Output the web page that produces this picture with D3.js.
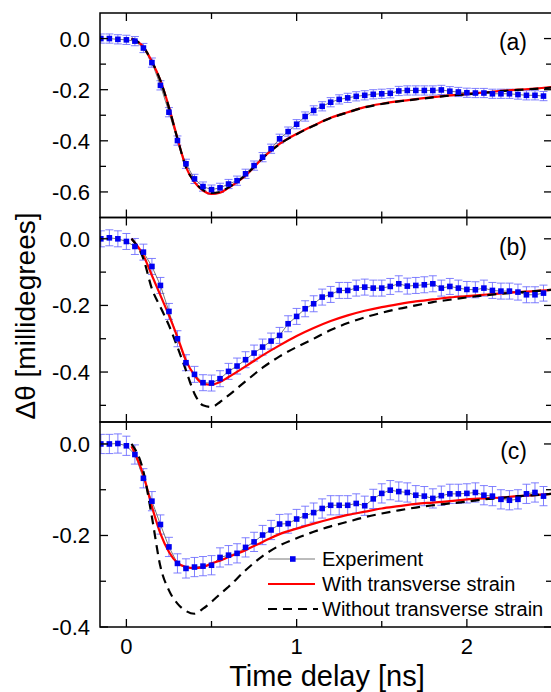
<!DOCTYPE html>
<html lang="en">
<head>
<meta charset="UTF-8">
<title>Kerr rotation vs time delay</title>
<script src="https://d3js.org/d3.v7.min.js"></script>
<style>
  body { margin: 0; background: #fff; }
  svg { display: block; font-family: "Liberation Sans", Arial, sans-serif; }
  .frame { fill: none; stroke: #000; stroke-width: 1.5; }
  .tick-line { stroke: #000; stroke-width: 1.3; }
  .errbar { stroke: #6a6aff; stroke-width: 1; opacity: 0.85; }
  .exp-line { fill: none; stroke: #555; stroke-width: 0.8; }
  .sq { fill: #0000f0; }
  .red { fill: none; stroke: #ff0000; stroke-width: 2.2; }
  .blk { fill: none; stroke: #000; stroke-width: 2.2; stroke-dasharray: 9,6; }
</style>
</head>
<body>
<svg width="551" height="692"></svg>
<script>
// measured time delays (ns)
const tExp = [-0.15, -0.10, -0.05, 0.00, 0.05, 0.10, 0.15, 0.20, 0.25, 0.30,
  0.35, 0.40, 0.45, 0.50, 0.55, 0.60, 0.65, 0.70, 0.75, 0.80,
  0.85, 0.90, 0.95, 1.00, 1.05, 1.10, 1.15, 1.20, 1.25, 1.30,
  1.35, 1.40, 1.45, 1.50, 1.55, 1.60, 1.65, 1.70, 1.75, 1.80,
  1.85, 1.90, 1.95, 2.00, 2.05, 2.10, 2.15, 2.20, 2.25, 2.30,
  2.35, 2.40, 2.45];

const expA = [0.0, 0.0, -0.003, -0.005, -0.01, -0.037, -0.094, -0.183, -0.288, -0.399,
  -0.49, -0.549, -0.579, -0.591, -0.584, -0.569, -0.556, -0.529, -0.497, -0.464,
  -0.431, -0.392, -0.364, -0.335, -0.305, -0.281, -0.265, -0.249, -0.238, -0.232,
  -0.226, -0.222, -0.218, -0.216, -0.214, -0.205, -0.203, -0.203, -0.203, -0.203,
  -0.201, -0.206, -0.209, -0.212, -0.213, -0.213, -0.216, -0.216, -0.216, -0.219,
  -0.222, -0.222, -0.225];

const expB = [0.0, 0.003, 0.0, -0.008, -0.023, -0.04, -0.083, -0.14, -0.218, -0.30,
  -0.372, -0.407, -0.432, -0.433, -0.42, -0.398, -0.382, -0.363, -0.343, -0.325,
  -0.307, -0.29, -0.255, -0.233, -0.21, -0.195, -0.175, -0.167, -0.155, -0.155,
  -0.148, -0.145, -0.148, -0.148, -0.143, -0.135, -0.142, -0.14, -0.138, -0.135,
  -0.148, -0.143, -0.148, -0.152, -0.153, -0.148, -0.155, -0.157, -0.157, -0.16,
  -0.168, -0.168, -0.163];

const expC = [0.0, 0.0, 0.001, -0.004, -0.023, -0.075, -0.125, -0.176, -0.225, -0.261,
  -0.272, -0.269, -0.267, -0.265, -0.248, -0.243, -0.239, -0.226, -0.214, -0.199,
  -0.188, -0.175, -0.174, -0.164, -0.157, -0.15, -0.141, -0.134, -0.134, -0.134,
  -0.13, -0.135, -0.12, -0.108, -0.101, -0.104, -0.106, -0.112, -0.114, -0.119,
  -0.113, -0.109, -0.109, -0.108, -0.106, -0.112, -0.114, -0.121, -0.123, -0.121,
  -0.109, -0.106, -0.114];

// error bar half-widths per panel
const errHalf = [0.018, 0.024, 0.021];

// simulation time grid (ns)
const tSim = [0.03, 0.10, 0.15, 0.20, 0.25, 0.30, 0.35, 0.40, 0.45, 0.50,
  0.55, 0.60, 0.70, 0.80, 0.90, 1.00, 1.10, 1.20, 1.30, 1.40,
  1.50, 1.60, 1.70, 1.80, 1.90, 2.00, 2.10, 2.20, 2.30, 2.40, 2.50];

const withA = [0.0, -0.033, -0.09, -0.164, -0.268, -0.39, -0.503, -0.562, -0.595, -0.608,
  -0.603, -0.584, -0.536, -0.468, -0.412, -0.373, -0.34, -0.31, -0.288, -0.268,
  -0.255, -0.245, -0.237, -0.229, -0.222, -0.217, -0.211, -0.205, -0.2, -0.196, -0.19];
const withoutA = [0.0, -0.033, -0.09, -0.165, -0.27, -0.392, -0.503, -0.56, -0.592, -0.604,
  -0.6, -0.582, -0.534, -0.468, -0.413, -0.374, -0.341, -0.311, -0.289, -0.269,
  -0.256, -0.246, -0.238, -0.23, -0.223, -0.218, -0.212, -0.206, -0.201, -0.197, -0.192];

const withB = [0.0, -0.05, -0.11, -0.17, -0.23, -0.295, -0.365, -0.41, -0.435, -0.438,
  -0.43, -0.415, -0.383, -0.35, -0.32, -0.292, -0.268, -0.247, -0.23, -0.216,
  -0.205, -0.196, -0.188, -0.182, -0.176, -0.172, -0.168, -0.164, -0.16, -0.157, -0.153];
const withoutB = [0.0, -0.06, -0.15, -0.205, -0.26, -0.325, -0.395, -0.465, -0.50, -0.505,
  -0.49, -0.47, -0.428, -0.387, -0.353, -0.325, -0.3, -0.274, -0.253, -0.236,
  -0.222, -0.21, -0.2, -0.19, -0.183, -0.176, -0.17, -0.165, -0.161, -0.157, -0.153];

const withC = [-0.005, -0.068, -0.137, -0.196, -0.236, -0.26, -0.269, -0.271, -0.269, -0.261,
  -0.255, -0.247, -0.232, -0.214, -0.197, -0.185, -0.174, -0.164, -0.155, -0.148,
  -0.141, -0.136, -0.131, -0.128, -0.125, -0.121, -0.119, -0.117, -0.114, -0.112, -0.109];
const withoutC = [0.0, -0.06, -0.16, -0.268, -0.32, -0.349, -0.365, -0.371, -0.36, -0.345,
  -0.328, -0.312, -0.276, -0.245, -0.222, -0.206, -0.192, -0.18, -0.17, -0.16,
  -0.152, -0.145, -0.139, -0.134, -0.13, -0.126, -0.121, -0.118, -0.114, -0.112, -0.109];

const panelNames = ["(a)", "(b)", "(c)"];
const yDomains = [[-0.7, 0.1], [-0.55, 0.064], [-0.4, 0.048]];
const yMajor = [[0, -0.2, -0.4, -0.6], [0, -0.2, -0.4], [0, -0.2, -0.4]];
const yMinor = [[-0.1, -0.3, -0.5], [-0.1, -0.3, -0.5], [-0.1, -0.3]];
const xMajor = [0, 1, 2];
const xMinor = [0.5, 1.5, 2.5];
const legendLabels = ["Experiment", "With transverse strain", "Without transverse strain"];

const panels = [
  {exp: expA, w: withA, wo: withoutA},
  {exp: expB, w: withB, wo: withoutB},
  {exp: expC, w: withC, wo: withoutC}
];

const svg = d3.select("svg");
const left = 100, right = 552;
const tops = [13, 217.5, 422, 627];

const x = d3.scaleLinear().domain([-0.155, 2.5]).range([left, right]);
const fmt = v => v.toFixed(1).replace("\u2212", "-");

panels.forEach((p, i) => {
  const y0 = tops[i], y1 = tops[i + 1];
  const y = d3.scaleLinear().domain(yDomains[i]).range([y1, y0]);
  const g = svg.append("g");

  g.append("clipPath").attr("id", "clip" + i)
    .append("rect").attr("x", left).attr("y", y0).attr("width", right - left).attr("height", y1 - y0);
  const plot = g.append("g").attr("clip-path", `url(#clip${i})`);

  // error bars
  const eb = plot.append("g");
  tExp.forEach((t, k) => {
    const cx = x(t), lo = y(p.exp[k] - errHalf[i]), hi = y(p.exp[k] + errHalf[i]);
    eb.append("line").attr("class", "errbar").attr("x1", cx).attr("x2", cx).attr("y1", lo).attr("y2", hi);
    eb.append("line").attr("class", "errbar").attr("x1", cx - 4).attr("x2", cx + 4).attr("y1", lo).attr("y2", lo);
    eb.append("line").attr("class", "errbar").attr("x1", cx - 4).attr("x2", cx + 4).attr("y1", hi).attr("y2", hi);
  });

  const expLine = d3.line().x((d, k) => x(tExp[k])).y(d => y(d));
  plot.append("path").attr("class", "exp-line").attr("d", expLine(p.exp));

  const simLine = d3.line().x((d, k) => x(tSim[k])).y(d => y(d)).curve(d3.curveMonotoneX);
  plot.append("path").attr("class", "red").attr("d", simLine(p.w));
  plot.append("path").attr("class", "blk").attr("d", simLine(p.wo));

  plot.selectAll("rect.sq").data(p.exp).enter().append("rect")
    .attr("class", "sq")
    .attr("x", (d, k) => x(tExp[k]) - 2.8)
    .attr("y", d => y(d) - 2.8)
    .attr("width", 5.6).attr("height", 5.6);

  // frame
  g.append("rect").attr("class", "frame")
    .attr("x", left).attr("y", y0).attr("width", right - left).attr("height", y1 - y0);

  // inward ticks on all sides
  const tk = g.append("g");
  xMajor.concat(xMinor).forEach(t => {
    const len = xMajor.includes(t) ? 8 : 6;
    tk.append("line").attr("class", "tick-line").attr("x1", x(t)).attr("x2", x(t)).attr("y1", y0).attr("y2", y0 + len);
    tk.append("line").attr("class", "tick-line").attr("x1", x(t)).attr("x2", x(t)).attr("y1", y1).attr("y2", y1 - len);
  });
  yMajor[i].concat(yMinor[i]).forEach(v => {
    const len = yMajor[i].includes(v) ? 8 : 6;
    tk.append("line").attr("class", "tick-line").attr("x1", left).attr("x2", left + len).attr("y1", y(v)).attr("y2", y(v));
    tk.append("line").attr("class", "tick-line").attr("x1", right).attr("x2", right - len).attr("y1", y(v)).attr("y2", y(v));
  });

  g.selectAll("text.ylab").data(yMajor[i]).enter().append("text")
    .attr("class", "ylab")
    .attr("x", 90).attr("y", d => y(d) + 8)
    .attr("text-anchor", "end").attr("font-size", 22)
    .text(fmt);

  g.append("text").attr("x", 527).attr("y", y0 + 37)
    .attr("text-anchor", "end").attr("font-size", 23)
    .text(panelNames[i]);

  if (i === 2) {
    g.selectAll("text.xlab").data(xMajor).enter().append("text")
      .attr("class", "xlab")
      .attr("x", d => x(d)).attr("y", 654)
      .attr("text-anchor", "middle").attr("font-size", 22)
      .text(d => d);

    // legend
    const lg = g.append("g");
    const rows = [559, 584, 609];
    lg.append("line").attr("class", "exp-line").attr("x1", 268).attr("x2", 315).attr("y1", rows[0]).attr("y2", rows[0]);
    lg.append("rect").attr("class", "sq").attr("x", 290).attr("y", rows[0] - 2.8).attr("width", 5.6).attr("height", 5.6);
    lg.append("line").attr("class", "red").attr("x1", 268).attr("x2", 315).attr("y1", rows[1]).attr("y2", rows[1]);
    lg.append("line").attr("class", "blk").attr("x1", 268).attr("x2", 318).attr("y1", rows[2]).attr("y2", rows[2]);
    lg.selectAll("text").data(legendLabels).enter().append("text")
      .attr("x", 322).attr("y", (d, k) => rows[k] + 7)
      .attr("font-size", 20)
      .text(d => d);
  }
});

svg.append("text")
  .attr("transform", "translate(35,316) rotate(-90)")
  .attr("text-anchor", "middle").attr("font-size", 28)
  .text("\u0394\u03b8 [millidegrees]");

svg.append("text")
  .attr("x", 327).attr("y", 686)
  .attr("text-anchor", "middle").attr("font-size", 29)
  .text("Time delay [ns]");
</script>
</body>
</html>
